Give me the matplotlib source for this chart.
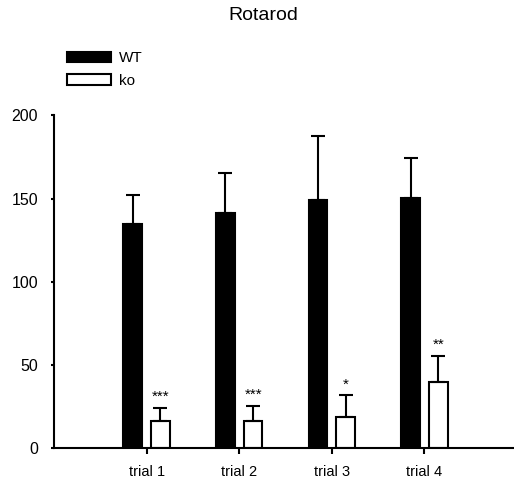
import matplotlib
matplotlib.use("Agg")
import matplotlib.pyplot as plt
import numpy as np

plt.rcParams['font.family'] = ['Liberation Sans', 'DejaVu Sans']

trials = ["trial 1", "trial 2", "trial 3", "trial 4"]
wt_mean = [134.7, 141.6, 149.0, 150.2]
wt_err = [17.4, 23.9, 38.7, 24.3]
ko_mean = [16.6, 16.6, 19.0, 40.0]
ko_err = [7.8, 9.0, 13.0, 15.6]
stars = ["***", "***", "*", "**"]

fig = plt.figure(figsize=(5.14, 4.83), dpi=100)
ax = fig.add_axes([0.105, 0.0718, 0.901, 0.6895])

x = np.arange(1, len(trials) + 1)
w = 0.2
ax.bar(x - 0.15, wt_mean, w, color="black", edgecolor="black", linewidth=1.5,
       yerr=[np.zeros(4), wt_err], error_kw=dict(ecolor="black", elinewidth=1.5, capsize=5, capthick=1.5),
       label="WT", zorder=2)
ax.bar(x + 0.15, ko_mean, w, color="white", edgecolor="black", linewidth=1.5,
       yerr=[np.zeros(4), ko_err], error_kw=dict(ecolor="black", elinewidth=1.5, capsize=5, capthick=1.5),
       label="ko", zorder=2)

for i in range(len(trials)):
    ax.annotate(stars[i], (x[i] + 0.15, ko_mean[i] + ko_err[i]), xytext=(0, 2.5),
                textcoords="offset points", ha="center", va="bottom", fontsize=11)

ax.set_xlim(0, 5)
ax.set_ylim(0, 200)
ax.set_xticks(x)
ax.set_xticklabels(trials, fontsize=10.5)
ax.set_yticks([0, 50, 100, 150, 200])
ax.tick_params(axis="y", labelsize=11.5, length=2.5, width=1.5, pad=9)
ax.tick_params(axis="x", length=4, width=1.5, pad=8)
ax.spines["top"].set_visible(False)
ax.spines["right"].set_visible(False)
ax.spines["left"].set_linewidth(1.5)
ax.spines["bottom"].set_linewidth(1.5)

fig.text(263 / 514, 1 - 16 / 483, "Rotarod", ha="center", va="center", fontsize=14)

leg = fig.legend(loc="upper left", bbox_to_anchor=(0.103, 0.922), frameon=False,
                 fontsize=11, handlelength=2.9, handleheight=0.65, labelspacing=0.55,
                 handletextpad=0.55)

fig.savefig("out.png", dpi=100)
